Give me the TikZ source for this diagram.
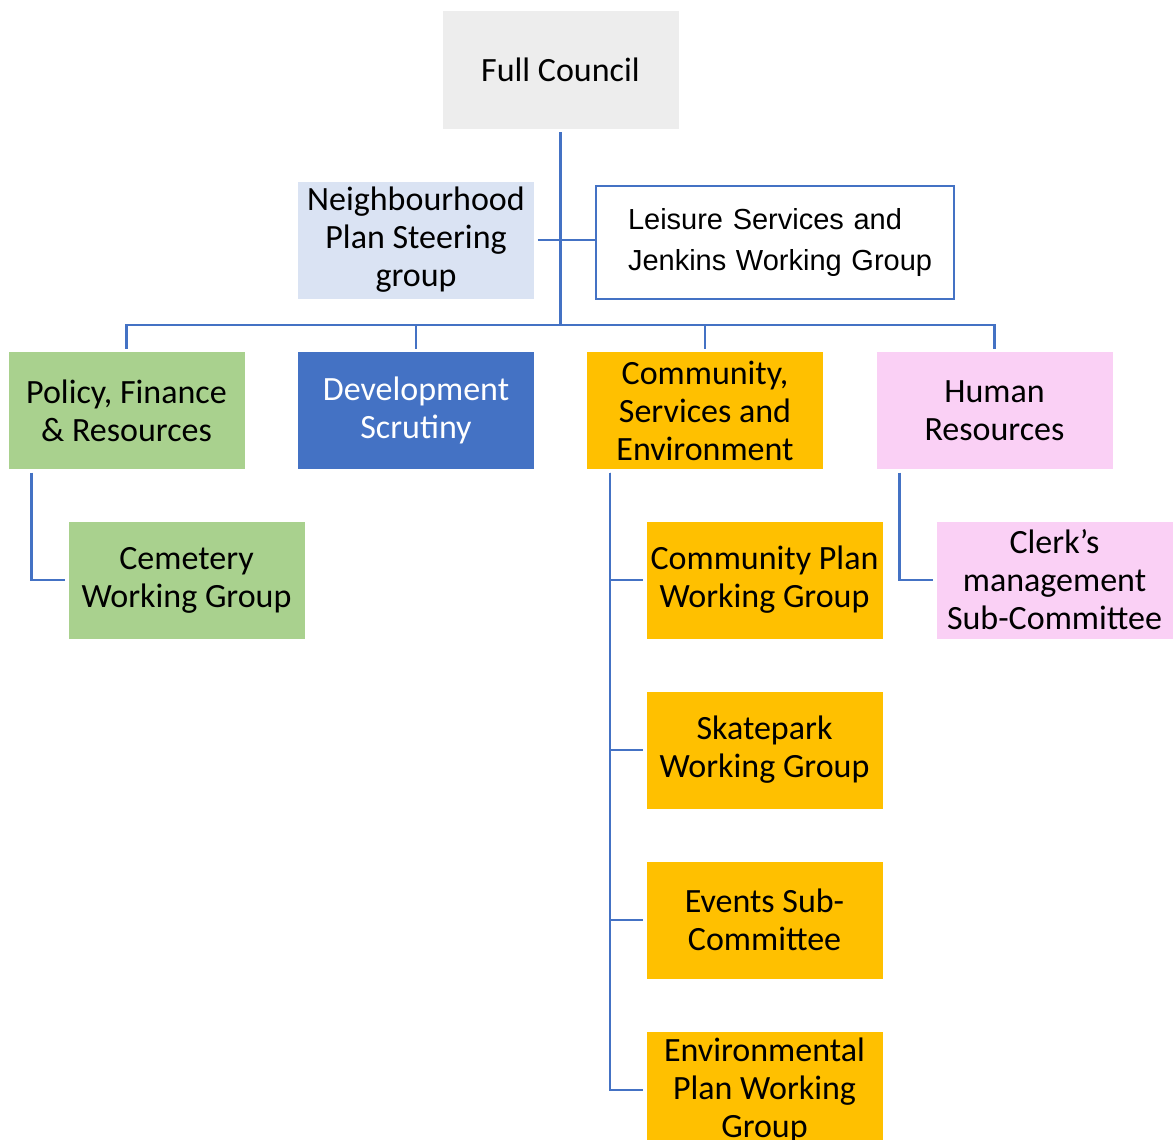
\documentclass[tikz,border=0pt]{standalone}
\usepackage{fontspec}
\setmainfont{Carlito}
\newfontfamily\arialfont{Liberation Sans}
\definecolor{councilgrey}{HTML}{EDEDED}
\definecolor{steerblue}{HTML}{DAE3F3}
\definecolor{devblue}{HTML}{4472C4}
\definecolor{policygreen}{HTML}{A9D18E}
\definecolor{commorange}{HTML}{FFC000}
\definecolor{staffpink}{HTML}{FAD0F5}
\tikzset{
  box/.style={minimum width=236pt, minimum height=117pt, inner sep=0pt,
    outer sep=3.5pt, align=center, font=\fontsize{34}{38}\selectfont},
  council/.style={fill=councilgrey},
  steer/.style={fill=steerblue},
  dev/.style={fill=devblue, text=white},
  policy/.style={fill=policygreen},
  comm/.style={fill=commorange},
  staff/.style={fill=staffpink},
  link/.style={draw=devblue, line width=2.5pt}
}
\begin{document}
\begin{tikzpicture}[x=1pt, y=-1pt]
      \useasboundingbox (0,0) rectangle (1173,1140);
      \def \Boxes {
        fc/560.5/70/council/{Full Council},
        np/416/240/steer/{Neighbourhood\\Plan Steering\\group},
        pf/126.5/410.5/policy/{Policy, Finance\\\& Resources},
        ds/416/410.5/dev/{Development\\Scrutiny},
        cs/705/410.5/comm/{Community,\\Services and\\Environment},
        hr/994.5/410.5/staff/{Human\\Resources},
        cw/186.5/580/policy/{Cemetery\\Working Group},
        cp/764.5/580/comm/{Community Plan\\Working Group},
        cm/1054.5/580/staff/{Clerk’s\\management\\Sub-Committee},
        sk/764.5/750/comm/{Skatepark\\Working Group},
        ev/764.5/920/comm/{Events Sub-\\Committee},
        ep/764.5/1090/comm/{Environmental\\Plan Working\\Group}}
      \def \Kids {
        pf/cw,
        hr/cm,
        cs/cp,
        cs/sk,
        cs/ev,
        cs/ep}

      \foreach \id / \x / \y / \s / \t in \Boxes {
        \node[box,\s] (\id) at (\x, \y) {\t};
      }
      \node[draw=devblue, line width=2.5pt, fill=white, minimum width=358pt,
        minimum height=113pt, text width=294pt, align=left, inner sep=0pt,
        font=\arialfont\fontsize{29}{40}\selectfont] (ls) at (775, 242.5)
        {\mbox{Leisure Services and}\\\mbox{Jenkins Working Group}};

      \coordinate (bus) at (560.5, 325);
      \path[link] (fc.south) -- (bus);
      \path[link] (pf.north) |- (bus) -| (hr.north);
      \foreach \id in {ds, cs} {
        \path[link] (\id.north) -- (\id.north |- bus);
      }
      \path[link] (np.east) -- (ls.west |- np.east);
      \foreach \p / \k in \Kids {
        \path[link] ([xshift=-95pt]\p.south) |- (\k.west);
      }
    \end{tikzpicture}
\end{document}
